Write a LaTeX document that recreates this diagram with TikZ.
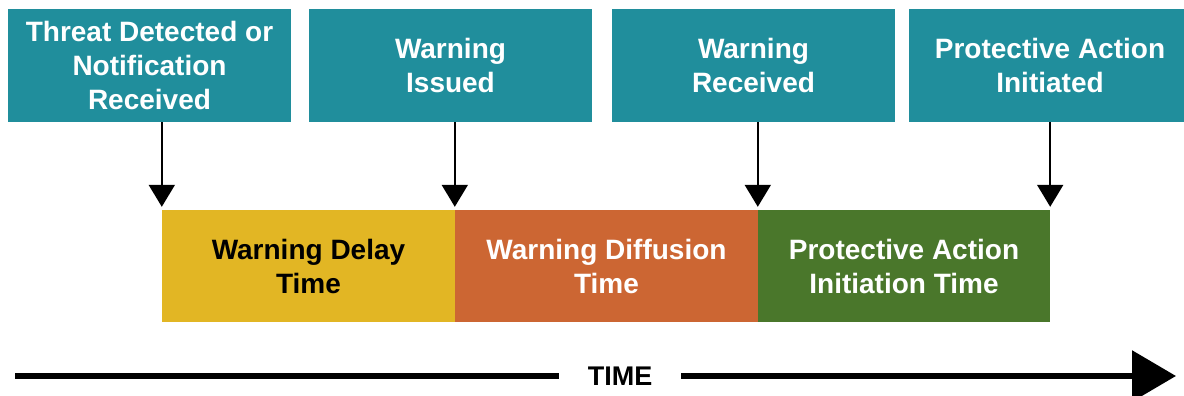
\documentclass[tikz,border=0pt]{standalone}
\usepackage{fontspec}
\setmainfont{Liberation Sans}
\usetikzlibrary{arrows.meta}

\definecolor{boxteal}{HTML}{208E9C}
\definecolor{delayyellow}{HTML}{E2B624}
\definecolor{diffusionorange}{HTML}{CC6633}
\definecolor{actiongreen}{HTML}{4A772B}

\tikzset{
  event/.style={fill=boxteal, text=white, inner sep=0pt, align=center,
    minimum width=283pt, minimum height=113pt,
    font=\bfseries\fontsize{28}{34}\selectfont},
  phase/.style={inner sep=0pt, align=center, minimum height=112pt,
    font=\bfseries\fontsize{28}{34}\selectfont},
  pointer/.style={line width=2pt, shorten >=3pt,
    -{Triangle[width=26pt,length=22pt]}},
  timeline/.style={line width=6pt}
}

\begin{document}
\begin{tikzpicture}[x=1pt, y=-1pt]
    \useasboundingbox (0, 0) rectangle (1184, 396);

    \draw 
    (149.5, 65.5) node[event](E1){Threat Detected or\\Notification\\Received}
    (450.5, 65.5) node[event](E2){Warning\\Issued}
    (753.5, 65.5) node[event](E3){Warning\\Received}
    (1050, 65.5) node[event](E4){Protective Action\\Initiated}
    (308.5, 266) node[phase, fill=delayyellow, text=black, minimum width=293pt](P1){Warning Delay\\Time}
    (606.5, 266) node[phase, fill=diffusionorange, text=white, minimum width=303pt](P2){Warning Diffusion\\Time}
    (904, 266) node[phase, fill=actiongreen, text=white, minimum width=292pt](P3){Protective Action\\Initiation Time};

    % event markers
    \draw[pointer] (E1.south -| P1.north west) -- (P1.north west);
    \draw[pointer] (E2.south -| P2.north west) -- (P2.north west);
    \draw[pointer] (E3.south -| P3.north west) -- (P3.north west);
    \draw[pointer] (E4.south -| P3.north east) -- (P3.north east);

    % time axis
    \coordinate (T0) at (15, 376);
    \coordinate (T1) at (1176, 376);
    \node[inner sep=0pt, minimum width=122pt, font=\bfseries\fontsize{27}{32}\selectfont](T) at (620, 376){TIME};
    \draw[timeline] (T0) -- (T.west);
    \draw[timeline, -{Triangle[width=50pt,length=44pt]}] (T.east) -- (T1);

  \end{tikzpicture}
\end{document}
